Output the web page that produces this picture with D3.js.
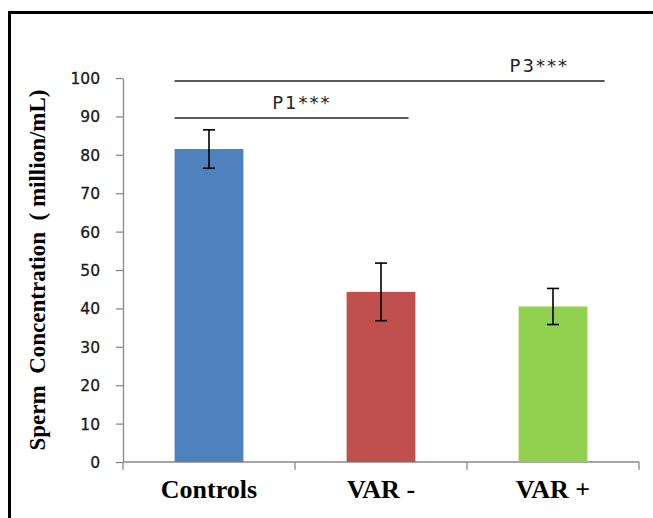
<!DOCTYPE html>
<html>
<head>
<meta charset="utf-8">
<script src="https://cdn.jsdelivr.net/npm/d3@7"></script>
<style>
  body { margin: 0; background: #fff; }
  svg { display: block; }
</style>
</head>
<body>
<svg id="chart"></svg>
<script>
const width = 653, height = 518;
const margin = { top: 78, right: 11, bottom: 56, left: 123 };

// data
const groups = ["Controls", "VAR -", "VAR +"];
const means = [81.5, 44.3, 40.5];
const errors = [5.0, 7.5, 4.7];
const barColors = ["#4f81bd", "#c0504d", "#92d050"];
const yTicks = [0, 10, 20, 30, 40, 50, 60, 70, 80, 90, 100];

// significance brackets: start / end in category units, level in y units
const sigLabels = ["P1***", "P3***"];
const sigLevels = [89.6, 99.2];
const sigStart = [0.30, 0.30];
const sigEnd = [1.66, 2.80];
const sigTextAt = [1.04, 2.42];

const svg = d3.select("#chart")
    .attr("width", width)
    .attr("height", height);

// frame
svg.append("rect")
    .attr("x", 9.5).attr("y", 12.5)
    .attr("width", 700).attr("height", 600)
    .attr("fill", "none")
    .attr("stroke", "#000")
    .attr("stroke-width", 3);

const plotW = width - margin.left - margin.right - 3;
const plotH = 462 - margin.top;

const x = d3.scaleBand()
    .domain(groups)
    .range([margin.left, margin.left + plotW])
    .paddingInner(0.6)
    .paddingOuter(0.3);

const xi = d3.scaleLinear()
    .domain([0, groups.length])
    .range([margin.left, margin.left + plotW]);

const y = d3.scaleLinear()
    .domain([0, 100])
    .range([margin.top + plotH, margin.top]);

const axisColor = "#898989";

// y axis
const yAxis = svg.append("g")
    .attr("transform", `translate(${margin.left},0)`)
    .call(d3.axisLeft(y).tickValues(yTicks).tickSize(7).tickSizeOuter(0).tickPadding(16));
yAxis.select(".domain").attr("stroke", axisColor).attr("stroke-width", 1.3);
yAxis.selectAll(".tick line").attr("stroke", axisColor).attr("stroke-width", 1.3);
yAxis.selectAll(".tick text")
    .attr("font-family", "DejaVu Sans")
    .attr("font-size", 15.5)
    .attr("fill", "#1a1a1a")
    .attr("stroke", "#1a1a1a")
    .attr("stroke-width", 0.3)
    .attr("dy", "0.36em");

// x axis line + boundary ticks
const xAxis = svg.append("g");
xAxis.append("line")
    .attr("x1", xi(0)).attr("x2", xi(groups.length))
    .attr("y1", y(0)).attr("y2", y(0))
    .attr("stroke", axisColor).attr("stroke-width", 1.3);
xAxis.selectAll(".bt")
    .data(d3.range(groups.length + 1))
    .join("line")
    .attr("class", "bt")
    .attr("x1", d => xi(d)).attr("x2", d => xi(d))
    .attr("y1", y(0)).attr("y2", y(0) + 8)
    .attr("stroke", axisColor).attr("stroke-width", 1.3);
xAxis.selectAll(".xl")
    .data(groups)
    .join("text")
    .attr("class", "xl")
    .attr("x", d => x(d) + x.bandwidth() / 2)
    .attr("y", 498)
    .attr("text-anchor", "middle")
    .attr("font-family", "Liberation Serif")
    .attr("font-weight", "bold")
    .attr("font-size", 26)
    .attr("fill", "#000")
    .text(d => d);

// y title
svg.append("text")
    .attr("transform", `translate(45,${(y(0) + y(100)) / 2}) rotate(-90)`)
    .attr("text-anchor", "middle")
    .attr("font-family", "Liberation Serif")
    .attr("font-weight", "bold")
    .attr("font-size", 23)
    .attr("fill", "#000")
    .attr("xml:space", "preserve")
    .text("Sperm  Concentration  ( million/mL)");

// bars
svg.selectAll(".bar")
    .data(groups)
    .join("rect")
    .attr("class", "bar")
    .attr("x", d => x(d))
    .attr("y", (d, i) => y(means[i]))
    .attr("width", x.bandwidth())
    .attr("height", (d, i) => y(0) - y(means[i]))
    .attr("fill", (d, i) => barColors[i]);

// error bars
const eb = svg.selectAll(".err")
    .data(groups)
    .join("g")
    .attr("class", "err")
    .attr("stroke", "#000")
    .attr("stroke-width", 1.6);
eb.append("line")
    .attr("x1", d => x(d) + x.bandwidth() / 2)
    .attr("x2", d => x(d) + x.bandwidth() / 2)
    .attr("y1", (d, i) => y(means[i] + errors[i]))
    .attr("y2", (d, i) => y(means[i] - errors[i]));
eb.append("line")
    .attr("x1", d => x(d) + x.bandwidth() / 2 - 6)
    .attr("x2", d => x(d) + x.bandwidth() / 2 + 6)
    .attr("y1", (d, i) => y(means[i] + errors[i]))
    .attr("y2", (d, i) => y(means[i] + errors[i]));
eb.append("line")
    .attr("x1", d => x(d) + x.bandwidth() / 2 - 6)
    .attr("x2", d => x(d) + x.bandwidth() / 2 + 6)
    .attr("y1", (d, i) => y(means[i] - errors[i]))
    .attr("y2", (d, i) => y(means[i] - errors[i]));

// significance lines
svg.selectAll(".sig")
    .data(sigLabels)
    .join("line")
    .attr("class", "sig")
    .attr("x1", (d, i) => xi(sigStart[i]))
    .attr("x2", (d, i) => xi(sigEnd[i]))
    .attr("y1", (d, i) => y(sigLevels[i]))
    .attr("y2", (d, i) => y(sigLevels[i]))
    .attr("stroke", "#222")
    .attr("stroke-width", 1.6);
svg.selectAll(".sigt")
    .data(sigLabels)
    .join("text")
    .attr("class", "sigt")
    .attr("x", (d, i) => xi(sigTextAt[i]))
    .attr("y", (d, i) => y(sigLevels[i]) - 9)
    .attr("text-anchor", "middle")
    .attr("font-family", "DejaVu Sans")
    .attr("font-size", 18)
    .attr("letter-spacing", 2)
    .attr("fill", "#222")
    .text(d => d);
</script>
</body>
</html>
